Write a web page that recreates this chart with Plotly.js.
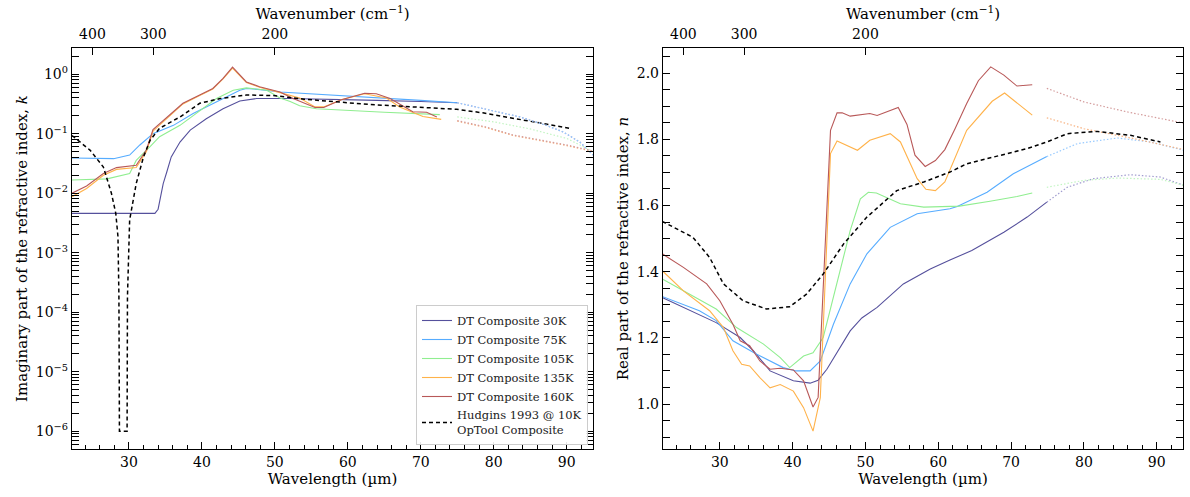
<!DOCTYPE html>
<html>
<head>
<meta charset="utf-8">
<script src="https://cdn.plot.ly/plotly-3.0.1.min.js"></script>
<style>html,body{margin:0;padding:0;background:#fff}#chart{width:1190px;height:497px}</style>
</head>
<body>
<div id="chart"></div>
<script>
// ---------- Left panel: imaginary part k ----------
const k30_wl  = [22.2, 26, 30, 33.56, 34.0, 34.3, 34.7, 35.2, 35.8, 37.0, 38.4, 40.6, 42.9, 45.2, 47.5, 52, 58, 64, 70, 75];
const k30_val = [0.00457, 0.00457, 0.00457, 0.00457, 0.00537, 0.00871, 0.0145, 0.0229, 0.0407, 0.0724, 0.115, 0.178, 0.263, 0.355, 0.389, 0.389, 0.380, 0.363, 0.347, 0.331];
const k30_ext_wl  = [75, 79.0, 83.6, 87.2, 89.5, 91.8, 93.6];
const k30_ext_val = [0.331, 0.257, 0.191, 0.138, 0.107, 0.0724, 0.0437];

const k75_wl  = [22.2, 25, 27.9, 30.1, 31.5, 33.3, 36.1, 38.8, 41.5, 45.2, 46.1, 48, 50.7, 55, 60, 65, 70, 75];
const k75_val = [0.0389, 0.0380, 0.0380, 0.0437, 0.0646, 0.100, 0.138, 0.219, 0.324, 0.537, 0.575, 0.550, 0.501, 0.468, 0.427, 0.398, 0.363, 0.331];
const k75_ext_wl  = [75, 79.0, 83.6, 87.2, 89.5, 91.8, 93.6];
const k75_ext_val = [0.331, 0.257, 0.191, 0.138, 0.107, 0.0724, 0.0437];

const k105_wl  = [22.2, 27.0, 30.1, 31.0, 32.9, 34.2, 37.0, 39.3, 42.0, 44.3, 46.1, 48.9, 50.7, 52.1, 53.4, 55.7, 60, 65, 72.6];
const k105_val = [0.0166, 0.0174, 0.0214, 0.0355, 0.0603, 0.0891, 0.138, 0.219, 0.389, 0.537, 0.589, 0.537, 0.398, 0.347, 0.295, 0.263, 0.245, 0.229, 0.209];
const k105_ext_wl  = [75, 80, 85, 90, 93.6];
const k105_ext_val = [0.191, 0.158, 0.120, 0.0832, 0.0501];

const k135_wl  = [22.2, 24.2, 26.5, 28.3, 31.0, 32.4, 33.3, 35.2, 37.4, 39.7, 41.5, 42.9, 44.2, 46.1, 47.9, 50.7, 53.4, 55.5, 56.7, 59.1, 62.3, 65.3, 67.1, 70.3, 72.8];
const k135_val = [0.00871, 0.0120, 0.0200, 0.0251, 0.0269, 0.0501, 0.110, 0.178, 0.316, 0.437, 0.562, 0.832, 1.259, 0.724, 0.603, 0.490, 0.398, 0.282, 0.282, 0.372, 0.468, 0.398, 0.282, 0.195, 0.174];
const k135_ext_wl  = [75, 79, 82.6, 87, 90, 93.6];
const k135_ext_val = [0.162, 0.126, 0.0933, 0.0741, 0.0631, 0.0501];

const k160_wl  = [22.2, 24.2, 26.5, 28.3, 31.0, 32.4, 33.3, 35.2, 37.4, 39.7, 41.5, 42.9, 44.2, 46.1, 47.9, 50.7, 52.5, 55.5, 56.7, 59.1, 62.3, 63.9, 65.8, 68.9, 70.8, 72.2];
const k160_val = [0.0100, 0.0132, 0.0214, 0.0269, 0.0295, 0.0537, 0.117, 0.186, 0.324, 0.447, 0.575, 0.851, 1.318, 0.741, 0.617, 0.501, 0.389, 0.275, 0.275, 0.372, 0.479, 0.468, 0.389, 0.234, 0.229, 0.191];
const k160_ext_wl  = [75, 79, 82.6, 87, 90, 93.6];
const k160_ext_val = [0.166, 0.129, 0.0955, 0.0759, 0.0646, 0.0513];

const kH_wl  = [22.2, 24.7, 26.5, 27.6, 28.2, 28.5, 28.63, 28.7, 29.75, 29.8, 30.1, 31.0, 32.0, 32.9, 34.2, 37.0, 39.7, 42.5, 46.1, 49.8, 54, 58.9, 63, 68.9, 74.9, 78.5, 82.6, 86.5, 90.4];
const kH_val = [0.0933, 0.0525, 0.0275, 0.0100, 0.00457, 0.00186, 0.000182, 1e-6, 1e-6, 0.000182, 0.00355, 0.0145, 0.0407, 0.0776, 0.123, 0.191, 0.324, 0.389, 0.447, 0.437, 0.380, 0.339, 0.309, 0.282, 0.257, 0.224, 0.182, 0.151, 0.123];

// ---------- Right panel: real part n ----------
const n30_wl  = [22.1, 25.0, 27.2, 29.5, 32.8, 34.6, 36.9, 38.5, 40.1, 42.4, 43.5, 44.7, 46.2, 47.9, 49.5, 51.6, 55.2, 58.9, 61.6, 64.6, 69.0, 72.2, 74.9];
const n30_val = [1.322, 1.292, 1.270, 1.246, 1.201, 1.161, 1.100, 1.085, 1.070, 1.063, 1.072, 1.105, 1.160, 1.221, 1.260, 1.292, 1.363, 1.408, 1.435, 1.464, 1.519, 1.565, 1.610];
const n30_ext_wl  = [74.9, 77.7, 81.3, 86.4, 90.5, 93.7];
const n30_ext_val = [1.610, 1.655, 1.681, 1.693, 1.686, 1.661];

const n75_wl  = [22.1, 27.2, 29.5, 31.8, 35.0, 38.7, 40.5, 42.4, 43.8, 45.6, 47.9, 50.2, 53.4, 57.1, 61.6, 62.6, 66.7, 70.3, 74.9];
const n75_val = [1.325, 1.282, 1.252, 1.191, 1.151, 1.110, 1.100, 1.100, 1.130, 1.241, 1.363, 1.454, 1.534, 1.575, 1.590, 1.597, 1.640, 1.696, 1.748];
const n75_ext_wl  = [74.9, 79.1, 84.6, 89.1, 93.7];
const n75_ext_val = [1.748, 1.787, 1.804, 1.792, 1.767];

const n105_wl  = [22.1, 27.2, 29.5, 32.3, 36.0, 38.3, 39.6, 41.5, 42.8, 44.2, 46.1, 47.9, 49.3, 50.4, 51.5, 54.8, 58.0, 62.9, 67.1, 70.8, 72.9];
const n105_val = [1.378, 1.317, 1.287, 1.231, 1.181, 1.140, 1.110, 1.145, 1.155, 1.201, 1.363, 1.524, 1.620, 1.640, 1.638, 1.605, 1.595, 1.598, 1.613, 1.627, 1.638];
const n105_ext_wl  = [74.9, 80.0, 84.6, 90.5, 93.7];
const n105_ext_val = [1.655, 1.676, 1.683, 1.679, 1.661];

const n135_wl  = [22.1, 25.0, 28.6, 30.5, 31.8, 33.0, 34.1, 35.5, 36.9, 38.3, 40.1, 41.5, 42.8, 43.8, 45.2, 46.1, 48.9, 50.6, 53.4, 54.8, 57.1, 58.3, 59.6, 60.9, 63.9, 67.4, 69.1, 72.9];
const n135_val = [1.403, 1.342, 1.282, 1.231, 1.161, 1.120, 1.115, 1.080, 1.049, 1.059, 1.039, 0.989, 0.918, 1.019, 1.757, 1.795, 1.767, 1.797, 1.817, 1.792, 1.681, 1.649, 1.645, 1.671, 1.827, 1.915, 1.940, 1.873];
const n135_ext_wl  = [74.9, 80.0, 86.9, 93.7];
const n135_ext_val = [1.865, 1.832, 1.802, 1.769];

const n160_wl  = [22.1, 25.0, 28.2, 30.0, 31.8, 32.8, 34.1, 35.5, 36.9, 38.3, 40.1, 41.5, 42.8, 43.5, 45.2, 46.1, 46.8, 47.9, 50.6, 51.6, 54.5, 55.7, 56.8, 58.2, 59.6, 60.9, 62.3, 63.9, 65.5, 67.2, 69.0, 70.8, 72.9];
const n160_val = [1.454, 1.413, 1.363, 1.312, 1.241, 1.191, 1.176, 1.130, 1.105, 1.108, 1.103, 1.070, 0.991, 1.020, 1.827, 1.880, 1.880, 1.870, 1.878, 1.872, 1.896, 1.845, 1.752, 1.718, 1.736, 1.769, 1.832, 1.908, 1.977, 2.019, 1.994, 1.961, 1.965];
const n160_ext_wl  = [74.9, 80.0, 85.9, 93.7];
const n160_ext_val = [1.954, 1.913, 1.883, 1.849];

const nH_wl  = [22.1, 26.3, 28.6, 30.5, 33.2, 36.4, 39.6, 41.9, 44.2, 47.0, 50.2, 54.3, 58.0, 61.6, 63.9, 68.5, 72.2, 74.9, 77.7, 81.8, 86.4, 90.5];
const nH_val = [1.552, 1.504, 1.443, 1.363, 1.312, 1.287, 1.294, 1.332, 1.393, 1.484, 1.565, 1.645, 1.671, 1.701, 1.726, 1.752, 1.772, 1.792, 1.817, 1.824, 1.812, 1.792];

// ---------- Labels / ticks ----------
const seriesNames = ['DT Composite 30K', 'DT Composite 75K', 'DT Composite 105K', 'DT Composite 135K', 'DT Composite 160K'];
const hudginsName = 'Hudgins 1993 @ 10K<br>OpTool Composite';
const wavenumberTicks = [400, 300, 200];
const kTickExps = [-6, -5, -4, -3, -2, -1, 0];

// ---------- Styles ----------
const colors = ['#55509c', '#56acff', '#90ee90', '#ffb24a', '#b85858'];
const extColors = ['#a29ed0', '#98caff', '#c2f5c2', '#f7b07e', '#d49c9c'];
const FONT = 'DejaVu Serif';

const kSolid = [[k30_wl,k30_val],[k75_wl,k75_val],[k105_wl,k105_val],[k135_wl,k135_val],[k160_wl,k160_val]];
const kExt = [[k30_ext_wl,k30_ext_val],[k75_ext_wl,k75_ext_val],[k105_ext_wl,k105_ext_val],[k135_ext_wl,k135_ext_val],[k160_ext_wl,k160_ext_val]];
const nSolid = [[n30_wl,n30_val],[n75_wl,n75_val],[n105_wl,n105_val],[n135_wl,n135_val],[n160_wl,n160_val]];
const nExt = [[n30_ext_wl,n30_ext_val],[n75_ext_wl,n75_ext_val],[n105_ext_wl,n105_ext_val],[n135_ext_wl,n135_ext_val],[n160_ext_wl,n160_ext_val]];

const traces = [];
for (let i = 0; i < 5; i++) {
  traces.push({x: kSolid[i][0], y: kSolid[i][1], xaxis: 'x', yaxis: 'y', mode: 'lines', name: seriesNames[i],
    line: {color: colors[i], width: 1.1}});
}
traces.push({x: kH_wl, y: kH_val, xaxis: 'x', yaxis: 'y', mode: 'lines', name: hudginsName,
  line: {color: '#000', width: 1.5, dash: '4px,3px'}});
for (let i = 0; i < 5; i++) {
  traces.push({x: nSolid[i][0], y: nSolid[i][1], xaxis: 'x2', yaxis: 'y2', mode: 'lines', name: seriesNames[i], showlegend: false,
    line: {color: colors[i], width: 1.1}});
  traces.push({x: kExt[i][0], y: kExt[i][1], xaxis: 'x', yaxis: 'y', mode: 'lines', showlegend: false, hoverinfo: 'skip',
    line: {color: extColors[i], width: 1.2, dash: '1.5px,2px'}});
  traces.push({x: nExt[i][0], y: nExt[i][1], xaxis: 'x2', yaxis: 'y2', mode: 'lines', showlegend: false, hoverinfo: 'skip',
    line: {color: extColors[i], width: 1.2, dash: '1.5px,2px'}});
}
traces.push({x: nH_wl, y: nH_val, xaxis: 'x2', yaxis: 'y2', mode: 'lines', name: hudginsName, showlegend: false,
  line: {color: '#000', width: 1.5, dash: '4px,3px'}});
// invisible traces so the top wavenumber axes exist
traces.push({x: [50], y: [1], xaxis: 'x3', yaxis: 'y', mode: 'markers', marker: {opacity: 0}, showlegend: false, hoverinfo: 'skip'});
traces.push({x: [50], y: [1.5], xaxis: 'x4', yaxis: 'y2', mode: 'markers', marker: {opacity: 0}, showlegend: false, hoverinfo: 'skip'});

const xr = [22.2, 93.6];
const dL = [72/1190, 593/1190];
const dR = [663/1190, 1183/1190];
const dY = [1 - 449/497, 1 - 48/497];

const logMinor = [];
for (let e = -7; e <= 0; e++) for (let m = 2; m <= 9; m++) logMinor.push(m * Math.pow(10, e));

const tickFont = {family: FONT, size: 14, color: '#000'};
const titleFont = {family: FONT, size: 15, color: '#000'};

const bottomX = (domain, anchor) => ({
  domain: domain, anchor: anchor, range: xr, showgrid: false, zeroline: false,
  showline: true, linecolor: '#000', linewidth: 1.2, mirror: true,
  ticks: 'inside', ticklen: 7, tickwidth: 1, tickcolor: '#000',
  dtick: 10, tick0: 0, tickfont: tickFont,
  minor: {dtick: 2, tick0: 0, ticks: 'inside', ticklen: 4, tickwidth: 1, tickcolor: '#000'},
  title: {text: 'Wavelength (µm)', font: titleFont, standoff: 2}, automargin: false
});
const topX = (over, anchor) => ({
  overlaying: over, anchor: anchor, side: 'top', range: xr, showgrid: false, zeroline: false,
  showline: false, ticks: 'inside', ticklen: 7, tickwidth: 1, tickcolor: '#000',
  tickmode: 'array', tickvals: wavenumberTicks.map(v => 10000 / v), ticktext: wavenumberTicks.map(String),
  tickfont: tickFont, ticklabelstandoff: 5,
  title: {text: 'Wavenumber (cm<sup>−1</sup>)', font: titleFont, standoff: 2}, automargin: false
});

const layout = {
  width: 1190, height: 497,
  margin: {l: 0, r: 0, t: 0, b: 0},
  paper_bgcolor: '#fff', plot_bgcolor: '#fff',
  font: {family: FONT, color: '#000'},
  xaxis: bottomX(dL, 'y'),
  xaxis2: bottomX(dR, 'y2'),
  xaxis3: topX('x', 'y'),
  xaxis4: topX('x2', 'y2'),
  yaxis: {
    domain: dY, anchor: 'x', type: 'log', range: [-6.3, 0.44], showgrid: false, zeroline: false,
    showline: true, linecolor: '#000', linewidth: 1.2, mirror: 'allticks',
    ticks: 'inside', ticklen: 7, tickwidth: 1, tickcolor: '#000',
    tickmode: 'array', tickvals: kTickExps.map(e => Math.pow(10, e)), ticktext: kTickExps.map(e => '10<sup>' + (e < 0 ? '−' + (-e) : e) + '</sup>'),
    tickfont: tickFont,
    minor: {tickmode: 'array', tickvals: logMinor, ticks: 'inside', ticklen: 4, tickwidth: 1, tickcolor: '#000'},
    title: {text: 'Imaginary part of the refractive index, <i>k</i>', font: titleFont, standoff: 4}, automargin: false
  },
  yaxis2: {
    domain: dY, anchor: 'x2', range: [0.864, 2.076], showgrid: false, zeroline: false,
    showline: true, linecolor: '#000', linewidth: 1.2, mirror: 'allticks',
    ticks: 'inside', ticklen: 7, tickwidth: 1, tickcolor: '#000',
    dtick: 0.2, tick0: 0, tickformat: '.1f', tickfont: tickFont,
    minor: {dtick: 0.05, tick0: 0, ticks: 'inside', ticklen: 4, tickwidth: 1, tickcolor: '#000'},
    title: {text: 'Real part of the refractive index, <i>n</i>', font: titleFont, standoff: 4}, automargin: false
  },
  legend: {
    x: 588/1190, y: 1 - 445/497, xanchor: 'right', yanchor: 'bottom',
    bgcolor: 'rgba(255,255,255,0.9)', bordercolor: '#cccccc', borderwidth: 1,
    font: {family: FONT, size: 11.5, color: '#222'}, tracegroupgap: 0, itemwidth: 30, traceorder: 'normal'
  },
  showlegend: true
};

Plotly.newPlot('chart', traces, layout, {staticPlot: true, displayModeBar: false});
</script>
</body>
</html>
